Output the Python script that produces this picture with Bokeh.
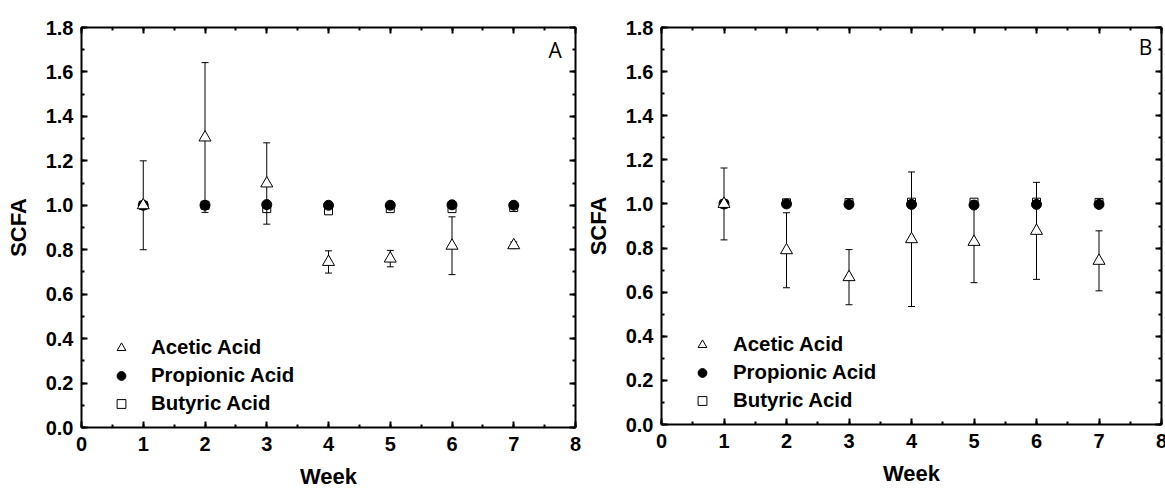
from bokeh.plotting import figure
from bokeh.models import (Range1d, LinearAxis, Whisker, TeeHead, ColumnDataSource,
                          Legend, LegendItem, PrintfTickFormatter, SingleIntervalTicker, Label,
                          CustomLabelingPolicy)
from bokeh.layouts import row
from bokeh.embed import file_html
from bokeh.resources import INLINE

# ---------------- data ----------------
weeks = [1, 2, 3, 4, 5, 6, 7]

a_acetic = [1.0, 1.305, 1.098, 0.745, 0.760, 0.818, 0.820]
a_acetic_err = [0.20, 0.337, 0.183, 0.050, 0.037, 0.130, 0.015]
a_propionic = [1.0, 1.0, 1.003, 1.0, 1.0, 1.002, 1.0]
a_butyric = [1.0, 1.0, 0.985, 0.975, 0.985, 0.985, 0.99]

b_acetic = [1.0, 0.790, 0.668, 0.840, 0.828, 0.878, 0.742]
b_acetic_err = [0.163, 0.170, 0.125, 0.305, 0.185, 0.220, 0.136]
b_propionic = [1.0, 1.0, 0.998, 0.998, 0.995, 0.998, 0.998]
b_butyric = [1.0, 1.005, 1.006, 1.008, 1.008, 1.008, 1.007]

series_labels = ["Acetic Acid", "Propionic Acid", "Butyric Acid"]
x_label = "Week"
y_label = "SCFA"

FONT = "Liberation Sans"

NO_LABELS = """
for (const i of indices) indices.unset(i)
return indices
"""


def style_axis(ax, show_labels=True):
    ax.axis_line_width = 2
    ax.axis_line_color = "black"
    ax.major_tick_line_width = 2
    ax.minor_tick_line_width = 2
    ax.major_tick_in = 6
    ax.major_tick_out = 0
    ax.minor_tick_in = 3
    ax.minor_tick_out = 0
    ax.major_label_text_font = FONT
    ax.major_label_text_font_style = "bold"
    ax.major_label_text_color = "black"
    if show_labels:
        ax.major_label_text_font_size = "20px"
    else:
        ax.major_label_text_font_size = "0px"
        ax.major_label_standoff = 0
        ax.major_label_policy = CustomLabelingPolicy(code=NO_LABELS)


def make_panel(letter, letter_xy, acetic, acetic_err, propionic, butyric,
               borders, frame, legend_loc, legend_standoff):
    bl, br, bt, bb = borders
    fw, fh = frame
    p = figure(x_range=Range1d(0, 8), y_range=Range1d(0, 1.8),
               frame_width=fw, frame_height=fh,
               min_border_left=bl, min_border_right=br,
               min_border_top=bt, min_border_bottom=bb,
               output_backend="svg", toolbar_location=None,
               x_axis_label=x_label, y_axis_label=y_label)
    p.xgrid.visible = False
    p.ygrid.visible = False
    p.outline_line_color = None
    p.background_fill_color = "white"
    p.border_fill_color = "white"

    p.xaxis.ticker = SingleIntervalTicker(interval=1, num_minor_ticks=2)
    p.yaxis.ticker = SingleIntervalTicker(interval=0.2, num_minor_ticks=2)
    p.yaxis.formatter = PrintfTickFormatter(format="%.1f")
    for ax in p.xaxis + p.yaxis:
        style_axis(ax)
        ax.axis_label_text_font = FONT
        ax.axis_label_text_font_style = "bold"
        ax.axis_label_text_font_size = "22px"
        ax.axis_label_text_color = "black"
    p.xaxis.major_label_standoff = 9
    p.xaxis.axis_label_standoff = 10
    p.yaxis.major_label_standoff = 8
    p.yaxis.axis_label_standoff = 12

    top = LinearAxis(ticker=SingleIntervalTicker(interval=1, num_minor_ticks=2))
    right = LinearAxis(ticker=SingleIntervalTicker(interval=0.2, num_minor_ticks=2))
    style_axis(top, show_labels=False)
    style_axis(right, show_labels=False)
    p.add_layout(top, "above")
    p.add_layout(right, "right")

    src = ColumnDataSource(dict(
        x=weeks, ac=acetic,
        up=[v + e for v, e in zip(acetic, acetic_err)],
        lo=[v - e for v, e in zip(acetic, acetic_err)],
        pr=propionic, bu=butyric))

    wh = Whisker(source=src, base="x", upper="up", lower="lo",
                 line_color="black", line_width=1, level="underlay",
                 upper_head=TeeHead(size=7, line_color="black", line_width=1),
                 lower_head=TeeHead(size=7, line_color="black", line_width=1))
    p.add_layout(wh)

    r_pr = p.scatter("x", "pr", source=src, marker="circle", size=10,
                     fill_color="black", line_color="black")
    r_bu = p.scatter("x", "bu", source=src, marker="square", size=8,
                     fill_color="white", fill_alpha=0.0, line_color="black", line_width=1)
    r_ac = p.scatter("x", "ac", source=src, marker="triangle", size=12,
                     fill_color="white", line_color="black", line_width=1)

    legend = Legend(items=[LegendItem(label=series_labels[0], renderers=[r_ac]),
                           LegendItem(label=series_labels[1], renderers=[r_pr]),
                           LegendItem(label=series_labels[2], renderers=[r_bu])],
                    location=legend_loc, orientation="vertical",
                    border_line_color=None, background_fill_alpha=0,
                    label_text_font=FONT, label_text_font_size="20.4px",
                    label_text_font_style="bold", label_text_color="black",
                    glyph_width=22, glyph_height=27, label_height=27,
                    spacing=1, padding=0, margin=0, label_standoff=legend_standoff)
    p.add_layout(legend)

    p.add_layout(Label(x=letter_xy[0], y=letter_xy[1], text=letter,
                       text_font="Open Sans", text_font_size="21px",
                       text_align="center", text_baseline="alphabetic",
                       text_color="black"))
    return p


pa = make_panel("A", (7.67, 1.70), a_acetic, a_acetic_err, a_propionic, a_butyric,
                borders=(81, 7, 24, 67), frame=(494, 400), legend_loc=(29, 10),
                legend_standoff=19)
pb = make_panel("B", (7.745, 1.712), b_acetic, b_acetic_err, b_propionic, b_butyric,
                borders=(73, 10, 27, 67), frame=(500, 397), legend_loc=(30, 10),
                legend_standoff=20)

layout = row(pa, pb)
open("out.html", "w").write(file_html(layout, INLINE))
